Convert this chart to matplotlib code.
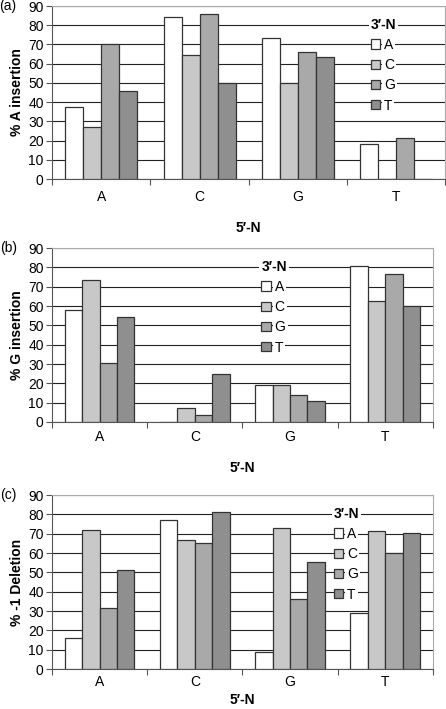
import matplotlib
matplotlib.use('Agg')
import matplotlib.pyplot as plt
import numpy as np

plt.rcParams['font.family'] = ['Liberation Sans', 'DejaVu Sans']
plt.rcParams['font.size'] = 10

# 5'-N groups and 3'-N series
groups = ['A', 'C', 'G', 'T']
series = ['A', 'C', 'G', 'T']

# % A insertion, rows = 3'-N series, columns = 5'-N groups
a_ins = [[37.5, 84.5, 73.5, 18.2],
         [27.0, 64.5, 50.0, 0.0],
         [70.0, 86.0, 66.0, 21.5],
         [46.0, 50.0, 63.3, 0.0]]
# % G insertion
g_ins = [[58.0, 0.0, 19.0, 80.7],
         [73.2, 7.3, 19.0, 62.7],
         [30.5, 3.6, 13.8, 76.5],
         [54.2, 24.7, 11.0, 60.0]]
# % -1 deletion
del1 = [[15.9, 77.3, 9.0, 28.8],
        [72.0, 66.8, 73.0, 71.5],
        [31.6, 65.2, 36.3, 59.9],
        [51.0, 81.0, 55.3, 70.5]]

colors = ['#ffffff', '#c8c8c8', '#a9a9a9', '#8f8f8f']


def panel(fig, rect, data, ylabel, tag, leg_xy, tick_pad, xlab_pad):
    ax = fig.add_axes(rect)
    x = np.arange(len(groups))
    w = 0.183
    for i, s in enumerate(series):
        ax.bar(x + (i - 1.5) * w, data[i], w, color=colors[i],
               edgecolor='#333333', linewidth=0.9, label=s, zorder=3)
    ax.set_xlim(-0.5, 3.5)
    ax.set_ylim(0, 90)
    ax.set_yticks(np.arange(0, 91, 10))
    ax.yaxis.grid(True, color='#222222', linewidth=0.8, zorder=0)
    ax.set_axisbelow(True)
    # ticks between groups, labels at group centres
    ax.set_xticks(np.arange(-0.5, 4, 1))
    ax.set_xticklabels([])
    ax.set_xticks(x, minor=True)
    ax.set_xticklabels(groups, minor=True)
    ax.tick_params(axis='x', which='minor', length=0, pad=tick_pad)
    ax.tick_params(axis='x', which='major', length=4, color='#555555')
    ax.tick_params(axis='y', length=4, pad=2, color='#555555')
    for sp in ['top', 'right']:
        ax.spines[sp].set_color('#aaaaaa')
    for sp in ['left', 'bottom']:
        ax.spines[sp].set_color('#555555')
    ax.set_ylabel(ylabel, fontweight='bold', labelpad=3)
    ax.set_xlabel('5\u2032-N', fontweight='bold', labelpad=xlab_pad)
    ax.text(-0.135, 1.0, tag, transform=ax.transAxes, ha='left', va='center')
    leg = ax.legend(title='3\u2032-N', loc='upper left', bbox_to_anchor=leg_xy,
                    bbox_transform=ax.transData, frameon=False,
                    handlelength=0.65, handleheight=0.65, handletextpad=0.3,
                    labelspacing=0.45, borderpad=0, borderaxespad=0,
                    alignment='left',
                    title_fontproperties={'weight': 'bold', 'size': 10})
    leg.set_zorder(5)
    for t in leg.get_texts():
        t.set_bbox(dict(facecolor='white', edgecolor='none', pad=1.5))
    leg.get_title().set_bbox(dict(facecolor='white', edgecolor='none', pad=1.5))
    return ax


fig = plt.figure(figsize=(4.46, 7.09), dpi=100)
panel(fig, [0.1166, 0.7475, 0.882, 0.244], a_ins, '% A insertion', '(a)', (2.74, 84), 8, 12)
panel(fig, [0.1166, 0.4048, 0.854, 0.2454], g_ins, '% G insertion', '(b)', (1.70, 84), 6, 12)
panel(fig, [0.1166, 0.0564, 0.854, 0.2454], del1, '% -1 Deletion', '(c)', (2.46, 84), 4, 3)

fig.savefig('out.png', dpi=100)
